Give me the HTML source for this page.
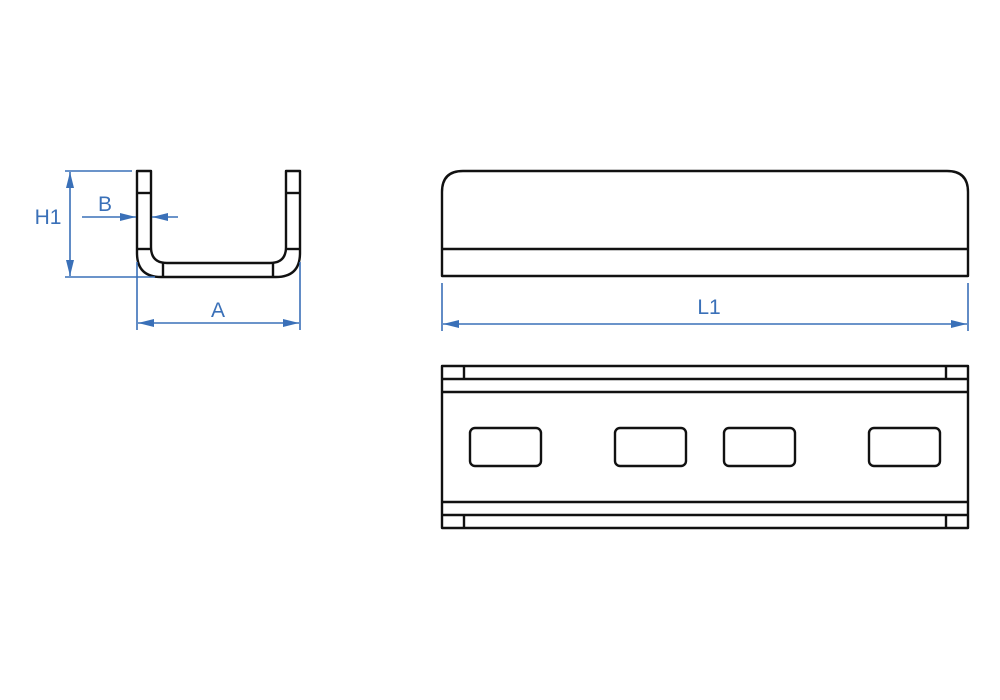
<!DOCTYPE html>
<html><head><meta charset="utf-8"><style>html,body{margin:0;padding:0;background:#fff;}svg{display:block}</style></head>
<body>
<svg width="1000" height="700" viewBox="0 0 1000 700" xmlns="http://www.w3.org/2000/svg">
<defs>
<marker id="ar" viewBox="0 0 10 10" refX="10" refY="5" markerWidth="16" markerHeight="8" markerUnits="userSpaceOnUse" orient="auto-start-reverse" preserveAspectRatio="none"><path d="M0,0 L10,5 L0,10 z" fill="#3a70b8"/></marker>
</defs>
<g fill="none" stroke="#111" stroke-width="2.4" stroke-linejoin="round">
<path d="M137,171 H151 V247 Q151,263 167,263 H270 Q286,263 286,247 V171 H300 V253 Q300,277 276,277 H161 Q137,277 137,253 Z"/>
<line x1="137" y1="193" x2="151" y2="193"/>
<line x1="286" y1="193" x2="300" y2="193"/>
<line x1="137" y1="249" x2="151" y2="249"/>
<line x1="286" y1="249" x2="300" y2="249"/>
<line x1="163" y1="263" x2="163" y2="277"/>
<line x1="273" y1="263" x2="273" y2="277"/>
<path d="M442,276 V192 Q442,171 463,171 H947 Q968,171 968,192 V276 Z"/>
<line x1="442" y1="249" x2="968" y2="249"/>
<rect x="442" y="366" width="526" height="162"/>
<line x1="442" y1="379" x2="968" y2="379"/>
<line x1="442" y1="392" x2="968" y2="392"/>
<line x1="442" y1="502" x2="968" y2="502"/>
<line x1="442" y1="515" x2="968" y2="515"/>
<line x1="464" y1="366" x2="464" y2="379"/>
<line x1="946" y1="366" x2="946" y2="379"/>
<line x1="464" y1="515" x2="464" y2="528"/>
<line x1="946" y1="515" x2="946" y2="528"/>
<rect x="470" y="428" width="71" height="38" rx="5"/>
<rect x="615" y="428" width="71" height="38" rx="5"/>
<rect x="724" y="428" width="71" height="38" rx="5"/>
<rect x="869" y="428" width="71" height="38" rx="5"/>
</g>
<g stroke="#3a70b8" stroke-width="1.6" fill="none">
<line x1="65" y1="171" x2="132" y2="171"/>
<line x1="65" y1="277" x2="155" y2="277"/>
<line x1="70" y1="172" x2="70" y2="276" marker-start="url(#ar)" marker-end="url(#ar)"/>
<line x1="82" y1="217" x2="136" y2="217" marker-end="url(#ar)"/>
<line x1="178" y1="217" x2="152" y2="217" marker-end="url(#ar)"/>
<line x1="137" y1="262" x2="137" y2="330"/>
<line x1="300" y1="262" x2="300" y2="330"/>
<line x1="138" y1="323" x2="299" y2="323" marker-start="url(#ar)" marker-end="url(#ar)"/>
<line x1="442" y1="283" x2="442" y2="331"/>
<line x1="968" y1="283" x2="968" y2="331"/>
<line x1="443" y1="324" x2="967" y2="324" marker-start="url(#ar)" marker-end="url(#ar)"/>
</g>
<g fill="#3a70b8" font-family="Liberation Sans, sans-serif" font-size="21" text-anchor="middle">
<text x="48" y="224">H1</text>
<text x="105" y="211">B</text>
<text x="218" y="317">A</text>
<text x="709" y="314">L1</text>
</g>
</svg>
</body></html>
